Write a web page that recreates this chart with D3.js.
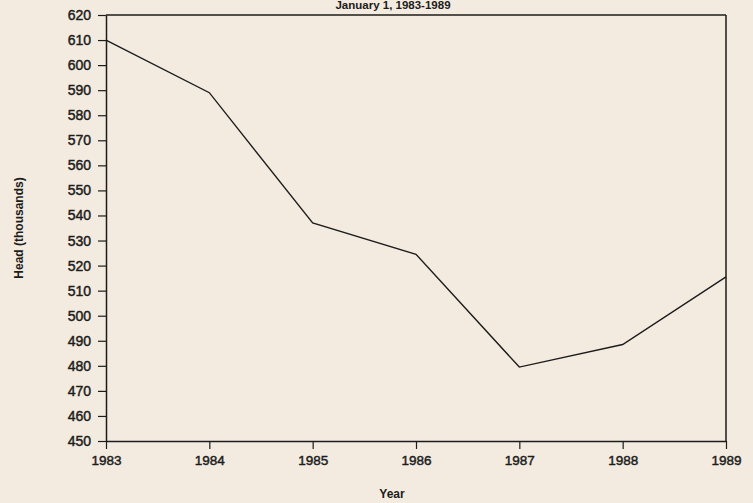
<!DOCTYPE html>
<html>
<head>
<meta charset="utf-8">
<script src="https://cdn.jsdelivr.net/npm/d3@7"></script>
<style>
  html, body { margin: 0; padding: 0; background: #f3ebdf; }
  svg { display: block; }
  text { font-family: "Liberation Sans", Arial, sans-serif; fill: #1c1c1c; }
</style>
</head>
<body>
<svg id="chart" width="753" height="503"></svg>
<script>
const years = [1983, 1984, 1985, 1986, 1987, 1988, 1989];
const headThousands = [610, 589, 537, 524.5, 479.5, 488.5, 515.5];
const yTicks = d3.range(450, 621, 10);
const titleText = "January 1, 1983-1989";
const xLabel = "Year";
const yLabel = "Head (thousands)";

const svg = d3.select("#chart");
const plotLeft = 106, plotRight = 726, plotTop = 15, plotBottom = 441;

const x = d3.scaleLinear().domain([1983, 1989]).range([plotLeft, plotRight]);
const y = d3.scaleLinear().domain([450, 620]).range([plotBottom, plotTop]);

const ink = "#1c1c1c";

// frame (top and right)
svg.append("line").attr("x1", plotLeft).attr("x2", plotRight).attr("y1", plotTop).attr("y2", plotTop)
  .attr("stroke", ink).attr("stroke-width", 1.5);
svg.append("line").attr("x1", plotRight).attr("x2", plotRight).attr("y1", plotTop).attr("y2", plotBottom)
  .attr("stroke", ink).attr("stroke-width", 1.5);

// x axis
const xAxis = svg.append("g").attr("transform", `translate(0,${plotBottom})`)
  .call(d3.axisBottom(x).tickValues(years).tickFormat(d3.format("d")).tickSize(8).tickSizeOuter(0).tickPadding(6));
xAxis.select(".domain").attr("stroke", ink).attr("stroke-width", 1.5);
xAxis.selectAll(".tick line").attr("stroke", ink).attr("stroke-width", 1.2);
xAxis.selectAll(".tick text").attr("font-size", 13.5).attr("fill", ink)
  .attr("stroke", ink).attr("stroke-width", 0.45)
  .style("font-family", "'Liberation Sans', Arial, sans-serif");

// y axis
const yAxis = svg.append("g").attr("transform", `translate(${plotLeft},0)`)
  .call(d3.axisLeft(y).tickValues(yTicks).tickFormat(d3.format("d")).tickSize(8).tickSizeOuter(0).tickPadding(7));
yAxis.select(".domain").attr("stroke", ink).attr("stroke-width", 1.5);
yAxis.selectAll(".tick line").attr("stroke", ink).attr("stroke-width", 1.2);
yAxis.selectAll(".tick text").attr("font-size", 14).attr("fill", ink)
  .attr("stroke", ink).attr("stroke-width", 0.45)
  .style("font-family", "'Liberation Sans', Arial, sans-serif");

// data line
const line = d3.line().x((d, i) => x(years[i])).y(d => y(d));
svg.append("path").datum(headThousands)
  .attr("d", line).attr("fill", "none").attr("stroke", ink).attr("stroke-width", 1.4)
  .attr("stroke-linejoin", "miter");

// title (near the top edge, as in the scan)
svg.append("text").attr("x", 393).attr("y", 9).attr("text-anchor", "middle")
  .attr("font-size", 11.5).attr("font-weight", "bold").text(titleText);

// axis labels
svg.append("text").attr("x", 392).attr("y", 498).attr("text-anchor", "middle")
  .attr("font-size", 12).attr("font-weight", "bold").text(xLabel);
svg.append("text").attr("transform", "translate(23,228) rotate(-90)").attr("text-anchor", "middle")
  .attr("font-size", 12).attr("font-weight", "bold").text(yLabel);
</script>
</body>
</html>
